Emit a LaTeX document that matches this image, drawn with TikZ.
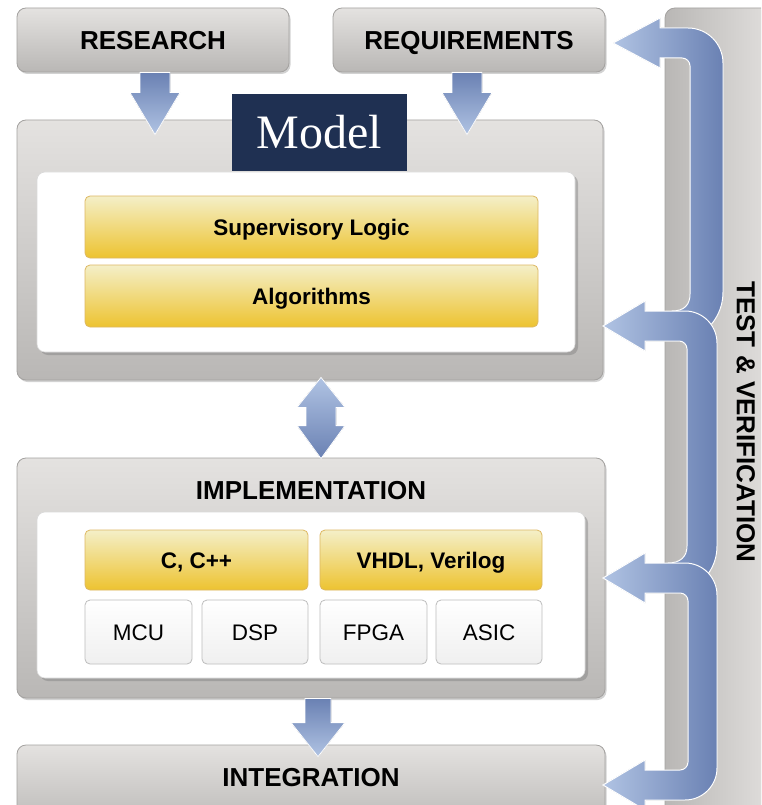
\documentclass[tikz,border=0pt]{standalone}
\usepackage{fontspec}
\newfontfamily\sansfont{Liberation Sans}
\newfontfamily\labelserif{Liberation Serif}
\usetikzlibrary{calc,shadows}

\definecolor{grayTop}{HTML}{E4E2E0}
\definecolor{grayBot}{HTML}{B9B7B5}
\definecolor{grayLine}{HTML}{A4A2A0}
\definecolor{yelTop}{HTML}{F4EFC8}
\definecolor{yelMid}{HTML}{F0D870}
\definecolor{yelBot}{HTML}{EDC330}
\definecolor{yelLine}{HTML}{DDB862}
\definecolor{blueLight}{HTML}{B0C3E3}
\definecolor{blueDark}{HTML}{6A81B3}
\definecolor{navy}{HTML}{1F3052}
\definecolor{cellLine}{HTML}{BDBDBD}

\begin{document}
\begin{tikzpicture}[x=1pt,y=-1pt,
  graybox/.style={rectangle, rounded corners=9pt, draw=grayLine, line width=0.8pt,
    top color=grayTop, bottom color=grayBot,
    drop shadow={shadow xshift=1.5pt, shadow yshift=-2pt, opacity=0.35},
    inner sep=0pt, text height=18.5pt, text depth=0pt,
    font=\sansfont\bfseries\fontsize{26}{30}\selectfont},
  whitebox/.style={rectangle, rounded corners=8pt, fill=white, draw=white!85!black,
    line width=0.6pt,
    drop shadow={shadow xshift=3pt, shadow yshift=-3pt, opacity=0.45},
    inner sep=0pt},
  yelbar/.style={rectangle, rounded corners=5pt, draw=yelLine, line width=0.8pt,
    top color=yelTop, middle color=yelMid, bottom color=yelBot, inner sep=0pt,
    text height=16pt, text depth=0pt,
    font=\sansfont\bfseries\fontsize{22.5}{26}\selectfont},
  cell/.style={rectangle, rounded corners=5pt, draw=cellLine, line width=0.8pt,
    top color=white, bottom color=white!94!black, inner sep=0pt,
    text height=16pt, text depth=0pt,
    minimum height=64pt, font=\sansfont\fontsize{22.5}{26}\selectfont},
  headtext/.style={font=\sansfont\bfseries\fontsize{26}{30}\selectfont, inner sep=0pt,
    text height=18.5pt, text depth=0pt},
  fatdown/.style={top color=blueDark, bottom color=blueLight, draw=white, line width=0.8pt},
  loopshade/.style={left color=blueLight, right color=blueDark, draw=white, line width=1pt}
]
\useasboundingbox (0,0) rectangle (761,805);
\clip (0,0) rectangle (761,805);
\fill[white] (0,0) rectangle (761,805);

% test & verification column on the right
\node[graybox, rounded corners=10pt, left color=grayBot, right color=grayTop,
      minimum width=115pt, minimum height=822pt] (tv) at (722.5,419) {};
\node[headtext, rotate=-90] (tvtext) at (746,422) {TEST \& VERIFICATION};

% top row
\node[graybox, minimum width=272pt, minimum height=64pt] (research) at (153,40) {RESEARCH};
\node[graybox, minimum width=272pt, minimum height=64pt] (requirements) at (469,40) {REQUIREMENTS};

% model block
\node[graybox, minimum width=586pt, minimum height=260pt] (model) at (310,250) {};
\node[whitebox, minimum width=538pt, minimum height=180pt] (modelin) at (306,262) {};
\node[yelbar, minimum width=453pt, minimum height=62pt] (sup) at (311.5,227) {Supervisory Logic};
\node[yelbar, minimum width=453pt, minimum height=62pt] (alg) at (311.5,296) {Algorithms};

% implementation block
\node[graybox, minimum width=588pt, minimum height=240pt] (impl) at (311,578) {};
\node[headtext] (impltitle) at (311,490) {IMPLEMENTATION};
\node[whitebox, minimum width=548pt, minimum height=166pt] (implin) at (311,595) {};
\node[yelbar, minimum width=223pt, minimum height=60pt] (clang) at (196.5,560) {C, C++};
\node[yelbar, minimum width=222pt, minimum height=60pt] (hdl) at (431,560) {VHDL, Verilog};
\node[cell, minimum width=107pt] (mcu) at (138.5,632) {MCU};
\node[cell, minimum width=106pt] (dsp) at (255,632) {DSP};
\node[cell, minimum width=107pt] (fpga) at (373.5,632) {FPGA};
\node[cell, minimum width=106pt] (asic) at (489,632) {ASIC};

% integration
\node[graybox, minimum width=588pt, minimum height=85pt] (integ) at (311,787.5) {};
\node[headtext] (integtext) at (311,777) {INTEGRATION};

% straight block arrows
\coordinate (ra) at ($(research.south)+(2,0)$);
\coordinate (rb) at ($(model.north)+(0,15)$);
\fill[fatdown] (ra) ++(-15,0) -- ++(30,0) -- ($(ra|-rb)+(15,-42)$) -- ($(ra|-rb)+(25,-42)$)
  -- (ra|-rb) -- ($(ra|-rb)+(-25,-42)$) -- ($(ra|-rb)+(-15,-42)$) -- cycle;

\coordinate (qa) at ($(requirements.south)+(-2,0)$);
\fill[fatdown] (qa) ++(-15,0) -- ++(30,0) -- ($(qa|-rb)+(15,-42)$) -- ($(qa|-rb)+(25,-42)$)
  -- (qa|-rb) -- ($(qa|-rb)+(-25,-42)$) -- ($(qa|-rb)+(-15,-42)$) -- cycle;

% two-way arrow between model and implementation
\coordinate (da) at ($(model.south)+(11,-3)$);
\coordinate (db) at ($(impl.north)+(10,1)$);
\fill[fatdown, top color=blueLight, bottom color=blueDark] (da) -- ($(da)+(24,30)$) -- ($(da)+(15,30)$)
  -- ($(db)+(15,-33)$) -- ($(db)+(24,-33)$) -- (db) -- ($(db)+(-24,-33)$)
  -- ($(db)+(-15,-33)$) -- ($(da)+(-15,30)$) -- ($(da)+(-24,30)$) -- cycle;

\coordinate (ia) at ($(impl.south)+(7,0)$);
\coordinate (ib) at ($(integ.north)+(7,12)$);
\fill[fatdown] (ia) ++(-13,0) -- ++(26,0) -- ($(ib)+(13,-34)$) -- ($(ib)+(27,-34)$)
  -- (ib) -- ($(ib)+(-27,-34)$) -- ($(ib)+(-13,-34)$) -- cycle;

% feedback loops from test & verification
\fill[loopshade] (613,43) -- (660,18) -- (660,28) -- (688,28)
  .. controls (707.3,28) and (723,43.7) .. (723,63) -- (723,292)
  .. controls (723,312) and (712,328) .. (695,338) -- (672,338) -- (672,311)
  .. controls (684,311) and (690,305) .. (690,294) -- (690,66)
  .. controls (690,61.6) and (686.4,58) .. (682,58) -- (660,58) -- (660,68) -- cycle;

\fill[loopshade] (603,326) -- (645,301) -- (645,311) -- (685,311)
  .. controls (702.7,311) and (717,325.3) .. (717,343) -- (717,546)
  .. controls (717,566) and (706,580) .. (690,590) -- (668,590) -- (668,563)
  .. controls (680,563) and (687,557) .. (687,546) -- (687,349)
  .. controls (687,344.6) and (683.4,341) .. (679,341) -- (645,341) -- (645,351) -- cycle;

\fill[loopshade] (603,578) -- (645,553) -- (645,563) -- (685,563)
  .. controls (702.7,563) and (717,577.3) .. (717,595) -- (717,768)
  .. controls (717,785.7) and (702.7,800) .. (685,800) -- (645,800) -- (645,810)
  -- (603,785) -- (645,760) -- (645,770) -- (680,770)
  .. controls (684.4,770) and (688,766.4) .. (688,762) -- (688,601)
  .. controls (688,596.6) and (684.4,593) .. (680,593) -- (645,593) -- (645,603) -- cycle;

% model label
\node[rectangle, fill=navy, text=white, minimum width=175pt, minimum height=77pt,
      inner sep=0pt, font=\labelserif\fontsize{48}{52}\selectfont] (modellabel) at (319.5,132.5) {Model};
\end{tikzpicture}
\end{document}
